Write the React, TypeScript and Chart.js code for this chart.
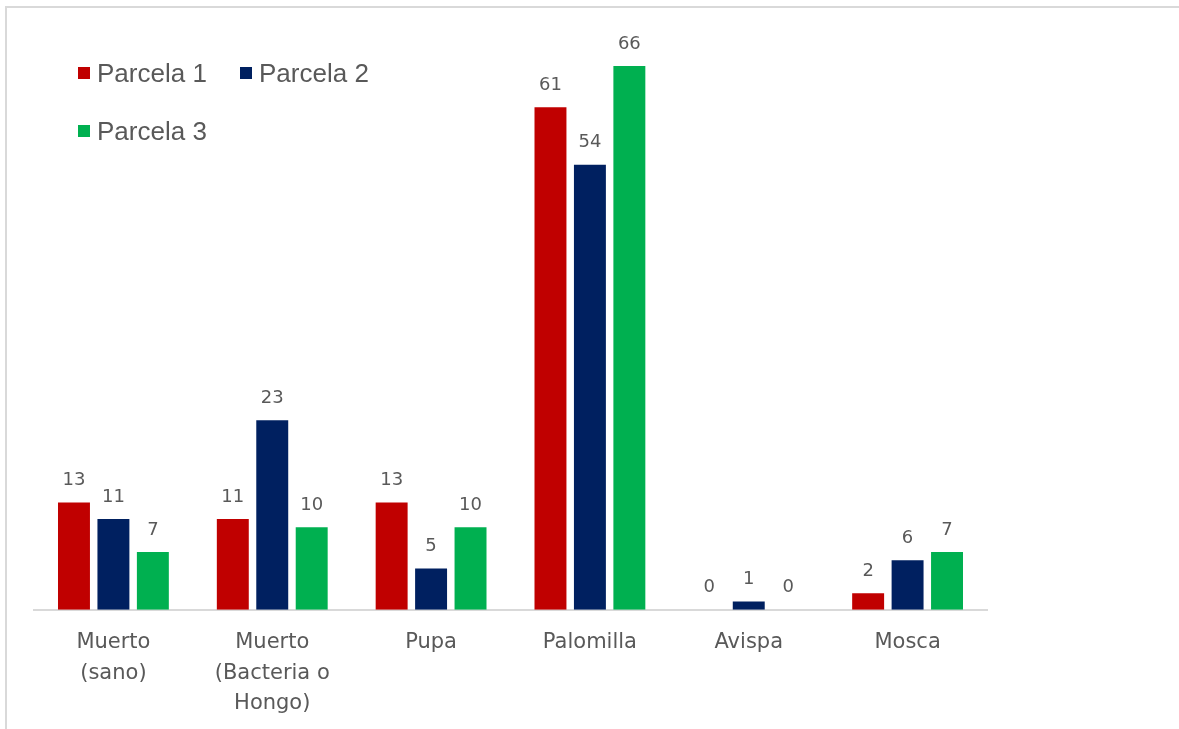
import React, { useEffect, useRef } from "react";
import { Chart, registerables } from "chart.js";

Chart.register(...registerables);

const categories: string[][] = [
  ["Muerto", "(sano)"],
  ["Muerto", "(Bacteria o", "Hongo)"],
  ["Pupa"],
  ["Palomilla"],
  ["Avispa"],
  ["Mosca"],
];
const seriesNames = ["Parcela 1", "Parcela 2", "Parcela 3"];
const parcela1 = [13, 11, 13, 61, 0, 2];
const parcela2 = [11, 23, 5, 54, 1, 6];
const parcela3 = [7, 10, 10, 66, 0, 7];
const colors = ["#C00000", "#002060", "#00B050"];

const labelPlugin = {
  id: "valueLabels",
  afterDatasetsDraw(chart: any) {
    const ctx = chart.ctx;
    ctx.save();
    ctx.font = '18px "DejaVu Sans", sans-serif';
    ctx.fillStyle = "#595959";
    ctx.textAlign = "center";
    ctx.textBaseline = "middle";
    chart.data.datasets.forEach((ds: any, i: number) => {
      const meta = chart.getDatasetMeta(i);
      meta.data.forEach((bar: any, j: number) => {
        ctx.fillText(String(ds.data[j]), bar.x, bar.y - 22);
      });
    });
    ctx.restore();
  },
};

export default function App() {
  const ref = useRef<HTMLCanvasElement | null>(null);
  useEffect(() => {
    if (!ref.current) return;
    const series = [parcela1, parcela2, parcela3];
    const chart = new Chart(ref.current, {
      type: "bar",
      data: {
        labels: categories,
        datasets: series.map((d, i) => ({
          label: seriesNames[i],
          data: d,
          backgroundColor: colors[i],
          categoryPercentage: 0.745,
          barPercentage: 0.81,
        })),
      },
      options: {
        animation: false,
        responsive: false,
        maintainAspectRatio: false,
        layout: { padding: { left: 34, right: 192, top: 33, bottom: 0 } },
        plugins: {
          legend: { display: false },
          tooltip: { enabled: false },
        },
        scales: {
          x: {
            grid: { display: false },
            border: { display: true, color: "#d9d9d9", width: 2 },
            ticks: {
              color: "#595959",
              font: { size: 21, family: '"DejaVu Sans", sans-serif', lineHeight: 1.45 },
              padding: 10,
              maxRotation: 0,
              autoSkip: false,
            },
          },
          y: {
            display: false,
            min: 0,
            max: 70,
          },
        },
      },
      plugins: [labelPlugin],
    });
    return () => chart.destroy();
  }, []);

  const legendItem = (i: number, left: number, top: number) => (
    <div
      key={i}
      style={{
        position: "absolute",
        left,
        top,
        display: "flex",
        alignItems: "center",
        fontFamily: '"Liberation Sans", Arial, sans-serif',
        fontSize: 26,
        color: "#595959",
        lineHeight: "28px",
        whiteSpace: "nowrap",
      }}
    >
      <span style={{ display: "inline-block", width: 12, height: 12, background: colors[i], marginRight: 7 }} />
      <span>{seriesNames[i]}</span>
    </div>
  );

  return (
    <div style={{ position: "fixed", left: 0, top: 0, width: 1179, height: 729, background: "#fff", overflow: "hidden" }}>
      <div
        style={{
          position: "absolute",
          left: 5,
          top: 6,
          width: 1200,
          height: 760,
          borderTop: "2px solid #d9d9d9",
          borderLeft: "2px solid #d9d9d9",
        }}
      />
      <canvas ref={ref} width={1179} height={729} style={{ position: "absolute", left: 0, top: 0 }} />
      {legendItem(0, 78, 59)}
      {legendItem(1, 240, 59)}
      {legendItem(2, 78, 117)}
    </div>
  );
}
